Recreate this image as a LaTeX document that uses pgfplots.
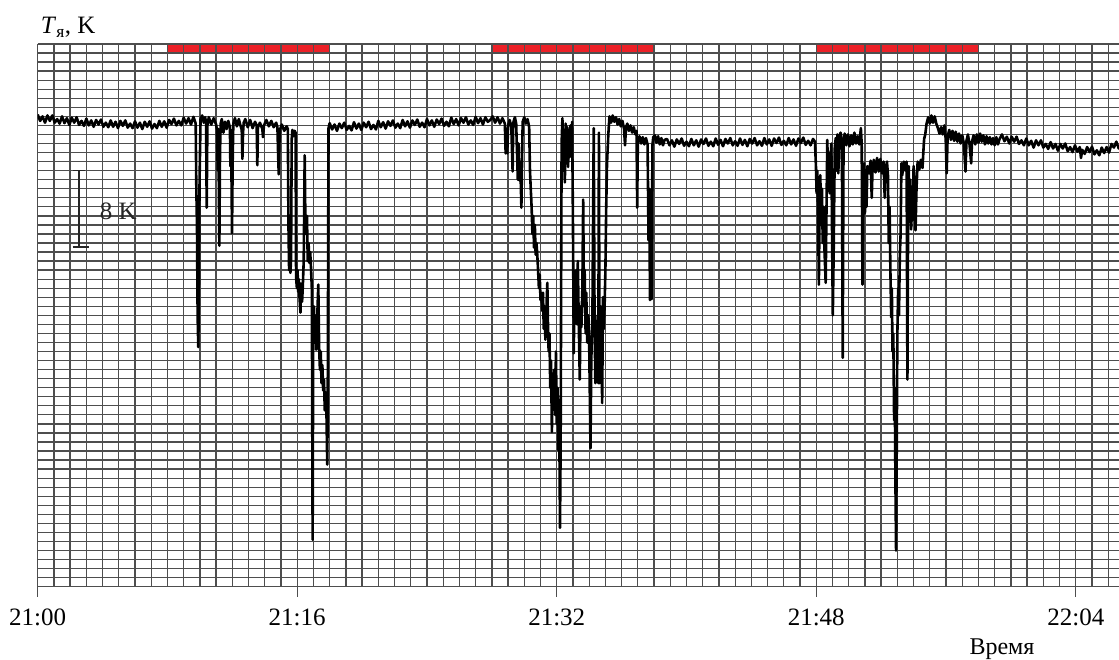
\documentclass[border=0pt]{standalone}
\usepackage{fontspec}
\setmainfont{Liberation Serif}
\usepackage{pgfplots}
\pgfplotsset{compat=1.18}
\usetikzlibrary{calc}
\definecolor{marker}{RGB}{236,32,39}
\definecolor{gridc}{RGB}{78,78,78}
\begin{document}
\begin{tikzpicture}
\begin{axis}[
  name=ax, set layers,
  x=16.22pt, y=9.045pt,
  xmin=0, xmax=66.66, ymin=0, ymax=60,
  axis x line*=bottom, axis y line*=left,
  axis line style={gridc, line width=1.3pt},
  xtick={0,16,32,48,64},
  xticklabels={21:00,21:16,21:32,21:48,22:04},
  minor xtick={1,2,...,66},
  ytick={0,1,...,60}, yticklabels={},
  xmajorgrids, xminorgrids, ymajorgrids,
  major grid style={gridc, line width=1.3pt},
  minor grid style={gridc, line width=1.3pt},
  tick align=outside, major tick length=10pt, minor tick length=0pt,
  ytick style={draw=none},
  xtick style={gridc, line width=1.3pt},
  xticklabel shift=12pt,
  xticklabel style={font=\fontsize{25}{30}\selectfont, anchor=north, inner sep=0pt},
  trace/.style={black, line width=2.6pt, line join=round, mark=none},
]
% observation intervals
\addplot[fill=marker, draw=none, on layer=axis background] coordinates {(8,59) (18,59) (18,60) (8,60) (8,59)};
\addplot[fill=marker, draw=none, on layer=axis background] coordinates {(28,59) (38,59) (38,60) (28,60) (28,59)};
\addplot[fill=marker, draw=none, on layer=axis background] coordinates {(48,59) (58,59) (58,60) (48,60) (48,59)};

\addplot[trace] coordinates {
% 21:00 - 21:10 quiet part
(0,52.2) (0.15,51.5) (0.3,52.0) (0.45,51.3) (0.6,52.1) (0.75,51.5) (0.9,52.1) (1.05,51.3)
(1.2,51.7) (1.35,51.2) (1.5,52.0) (1.65,51.25) (1.8,51.8) (1.95,51.05) (2.1,51.85) (2.25,51.3)
(2.4,51.9) (2.55,51.05) (2.7,51.5) (2.85,50.95) (3.0,51.75) (3.15,51.0) (3.3,51.55) (3.45,50.85)
(3.6,51.6) (3.75,51.1) (3.9,51.65) (4.05,50.85) (4.2,51.3) (4.35,50.8) (4.5,51.55) (4.65,50.85)
(4.8,51.4) (4.95,50.7) (5.1,51.5) (5.25,50.95) (5.4,51.55) (5.55,50.75) (5.7,51.2) (5.85,50.7)
(6.0,51.45) (6.15,50.75) (6.3,51.3) (6.45,50.6) (6.6,51.4) (6.75,50.85) (6.9,51.45) (7.05,50.65)
(7.2,51.15) (7.35,50.7) (7.5,51.5) (7.65,50.85) (7.8,51.45) (7.95,50.75) (8.1,51.6) (8.25,51.15)
(8.4,51.75) (8.55,51.0) (8.7,51.5) (8.85,51.0) (9.0,51.85) (9.15,51.2) (9.3,51.8) (9.45,51.1)
(9.6,51.95)
% first group of dips
(9.74,51.2) (9.78,44) (9.82,40) (9.86,30) (9.90,26.5) (9.94,33) (9.98,45) (10.04,51.7)
(10.14,52.1) (10.24,51.3) (10.32,51.9) (10.38,51.4) (10.42,41.9) (10.46,51.0)
(10.55,51.9) (10.7,51.1) (10.85,51.8) (11.0,51.1)
(11.05,50.5) (11.1,46) (11.13,50.6) (11.17,44) (11.20,37.7) (11.24,48) (11.28,51.2)
(11.35,51.7) (11.45,50.2) (11.55,51.4) (11.65,50.6) (11.75,51.5)
(11.85,50.8) (11.88,46.5) (11.92,50.5) (11.95,45) (11.98,39.1) (12.02,47) (12.06,51.2)
(12.16,51.8) (12.28,50.9) (12.4,51.7) (12.5,51.0)
(12.58,50.5) (12.62,47.3) (12.66,50.2) (12.70,51.3)
(12.8,51.7) (12.95,50.8) (13.1,51.6) (13.25,50.7) (13.4,51.4)
(13.5,51.0) (13.54,46.6) (13.58,50.8)
(13.7,51.3) (13.85,50.6) (13.89,49.7) (13.95,51.0) (14.1,51.6) (14.25,50.9) (14.4,51.5)
(14.55,50.8) (14.7,51.3)
(14.78,50.8) (14.82,48) (14.86,45.6) (14.9,49) (14.95,50.6)
(15.05,51.1) (15.2,50.4) (15.35,50.9)
(15.42,50.6) (15.46,40) (15.5,35) (15.54,36.5) (15.58,34.7) (15.62,36.2) (15.66,49.5)
(15.7,50.5) (15.76,49.8) (15.84,50.4) (15.9,50.2) (15.93,34.2)
(15.98,33) (16.02,35) (16.06,32.6) (16.10,34) (16.14,32) (16.2,30.3) (16.24,33.5)
(16.30,31.5) (16.34,33) (16.4,36) (16.46,47.7) (16.5,41) (16.55,39) (16.6,41) (16.65,36)
(16.7,38) (16.75,35.8) (16.8,37) (16.85,35.3)
(16.90,33) (16.95,5.2) (16.99,30)
(17.03,31) (17.08,27) (17.12,30) (17.17,26.2) (17.22,29) (17.3,33.4) (17.35,26.5)
(17.40,24) (17.45,26) (17.5,22.5) (17.55,24.5) (17.6,21.7) (17.65,22.9) (17.7,19.5)
(17.75,21.5) (17.8,19.6) (17.85,13.5) (17.88,20) (17.93,50.7)
% quiet part 21:18 - 21:28
(18.0,51.25) (18.15,50.55) (18.3,51.1) (18.45,50.4) (18.6,51.2) (18.75,50.7) (18.9,51.3)
(19.05,50.5) (19.2,50.95) (19.35,50.45) (19.5,51.35) (19.65,50.65) (19.8,51.2) (19.95,50.5)
(20.1,51.3) (20.25,50.8) (20.4,51.4) (20.55,50.6) (20.7,51.05) (20.85,50.55) (21.0,51.5)
(21.15,50.8) (21.3,51.35) (21.45,50.65) (21.6,51.45) (21.75,50.95) (21.9,51.55) (22.05,50.75)
(22.2,51.2) (22.35,50.7) (22.5,51.6) (22.65,50.9) (22.8,51.45) (22.95,50.75) (23.1,51.55)
(23.25,51.05) (23.4,51.65) (23.55,50.85) (23.7,51.3) (23.85,50.8) (24.0,51.7) (24.15,51.0)
(24.3,51.55) (24.45,50.85) (24.6,51.65) (24.75,51.15) (24.9,51.75) (25.05,50.95) (25.2,51.4)
(25.35,50.9) (25.5,51.85) (25.65,51.15) (25.8,51.7) (25.95,51.0) (26.1,51.8) (26.25,51.3)
(26.4,51.9) (26.55,51.1) (26.7,51.55) (26.85,51.05) (27.0,51.95) (27.15,51.25) (27.3,51.8)
(27.45,51.1) (27.6,51.9) (27.75,51.4)
% second group of dips
(27.9,51.6) (28.05,52.0) (28.2,51.3) (28.35,51.9) (28.5,51.2) (28.65,51.8) (28.8,51.2)
(28.85,47.9) (28.9,49.5) (28.95,47.9) (29.0,51.0) (29.1,51.6) (29.2,50.8) (29.28,45.9)
(29.32,51.3) (29.42,51.9) (29.5,51.2) (29.55,48) (29.6,45) (29.65,49) (29.7,44.9)
(29.75,47) (29.82,41.9) (29.86,47) (29.9,51.4) (30.0,51.9) (30.1,51.2) (30.2,51.7)
(30.3,50.8) (30.35,46) (30.4,43.9) (30.45,42) (30.5,39) (30.55,41) (30.6,37.5) (30.65,40)
(30.7,36.7) (30.75,38) (30.8,36.7) (30.85,35) (30.9,33) (30.95,34.5) (31.0,31.7)
(31.05,32.5) (31.1,30.5) (31.15,32.5) (31.2,28.5) (31.25,31) (31.3,27.3) (31.35,30)
(31.42,33.6) (31.46,29) (31.5,26) (31.55,28) (31.6,22) (31.65,25) (31.7,17.1) (31.75,23)
(31.8,20.3) (31.85,24) (31.9,19) (31.95,26) (32.0,18) (32.05,22) (32.1,15.1) (32.15,20)
(32.2,6.5) (32.24,15.5) (32.27,32.5) (32.3,49.0) (32.35,51.8) (32.4,46) (32.45,50.5)
(32.5,44.7) (32.55,51.2) (32.6,47) (32.65,50.8) (32.7,46.4) (32.75,50.5) (32.8,47.5)
(32.85,51.0) (32.9,48) (32.95,51.4) (33.0,40) (33.05,25.8) (33.1,34) (33.15,30) (33.2,35)
(33.25,29) (33.3,36) (33.35,30) (33.42,22.9) (33.47,31) (33.52,28.7) (33.58,33)
(33.63,42.8) (33.68,31) (33.72,35) (33.78,28) (33.82,32.5) (33.88,27) (33.95,30)
(34.0,26.9) (34.08,15.3) (34.13,25) (34.2,30) (34.28,50.7) (34.33,30) (34.38,22.5)
(34.42,29) (34.47,24) (34.52,30) (34.56,22.5) (34.6,50.2) (34.64,22.5) (34.7,31)
(34.75,28) (34.8,20.3) (34.85,32) (34.9,28.5) (34.95,31) (35.0,35) (35.05,42) (35.1,46.8)
(35.18,50) (35.25,52.0) (35.35,51.3) (35.45,52.1) (35.55,51.4) (35.65,51.9) (35.75,51.1)
(35.85,51.7) (35.95,50.9) (36.05,51.5) (36.15,50.6) (36.21,48.8) (36.27,50.8) (36.35,51.2)
(36.45,50.4) (36.55,51.0) (36.65,50.2) (36.75,50.8) (36.85,50.0) (36.92,50.4) (36.96,41.9)
(37.0,49.4) (37.1,49.8) (37.2,49.0) (37.3,49.7) (37.4,48.9) (37.5,49.6) (37.6,48.9)
(37.66,38.3) (37.7,44) (37.75,31.7) (37.8,35) (37.85,31.8) (37.9,48.8) (37.95,49.7)
(38.05,49.9) (38.15,49.1) (38.25,49.8) (38.35,48.9) (38.45,49.6) (38.55,48.8) (38.65,49.4)
% quiet part 21:39 - 21:48
(38.8,49.5) (38.95,48.8) (39.1,49.35) (39.25,48.65) (39.4,49.45) (39.55,48.95) (39.7,49.55)
(39.85,48.75) (40.0,49.2) (40.15,48.7) (40.3,49.5) (40.45,48.8) (40.6,49.35) (40.75,48.65)
(40.9,49.45) (41.05,48.95) (41.2,49.55) (41.35,48.75) (41.5,49.2) (41.65,48.7) (41.8,49.55)
(41.95,48.85) (42.1,49.4) (42.25,48.7) (42.4,49.5) (42.55,49.0) (42.7,49.6) (42.85,48.8)
(43.0,49.25) (43.15,48.75) (43.3,49.55) (43.45,48.85) (43.6,49.4) (43.75,48.7) (43.9,49.5)
(44.05,49.0) (44.2,49.6) (44.35,48.8) (44.5,49.25) (44.65,48.75) (44.8,49.6) (44.95,48.9)
(45.1,49.45) (45.25,48.75) (45.4,49.55) (45.55,49.05) (45.7,49.65) (45.85,48.85) (46.0,49.3)
(46.15,48.8) (46.3,49.6) (46.45,48.9) (46.6,49.45) (46.75,48.75) (46.9,49.55) (47.05,49.05)
(47.2,49.65) (47.35,48.85) (47.5,49.3) (47.65,48.8) (47.8,49.5)
% third group of dips
(47.92,49.2) (47.98,46.5) (48.02,43.5) (48.06,46) (48.12,40) (48.16,33.4) (48.2,41)
(48.25,45.5) (48.3,40) (48.35,44) (48.4,38) (48.45,42) (48.5,37.6) (48.58,33.6) (48.62,40)
(48.68,49.4) (48.73,45) (48.78,48) (48.83,43.5) (48.88,47) (48.93,49.0) (48.97,40)
(49.02,30.0) (49.08,38) (49.14,48.5) (49.2,49.6) (49.25,46) (49.3,50.0) (49.36,45.7)
(49.42,49.8) (49.5,50.2) (49.58,49.4) (49.63,25.3) (49.68,48.5) (49.75,50.1) (49.85,48.8)
(49.95,50.0) (50.05,48.7) (50.15,49.9) (50.25,48.9) (50.35,50.2) (50.45,49.0) (50.55,49.8)
(50.65,48.9) (50.75,50.7) (50.8,49) (50.85,33.4) (50.9,42) (50.95,46.8) (51.0,41.3)
(51.05,45) (51.1,42) (51.15,46.5) (51.25,45.7) (51.35,47.1) (51.42,43.0) (51.47,46.2)
(51.55,47.2) (51.65,45.8) (51.75,47.4) (51.85,45.9) (51.95,47.3) (52.05,45.7) (52.15,47.0)
(52.22,43.0) (52.28,46.2) (52.36,47.0) (52.42,45.5) (52.47,38) (52.52,42) (52.57,35)
(52.62,29.8) (52.66,33) (52.7,26) (52.75,28) (52.8,18.4) (52.84,22) (52.88,11.8)
(52.92,4.0) (52.96,15) (53.0,27.9) (53.05,33) (53.1,30) (53.15,36.4) (53.2,39) (53.25,46.8)
(53.3,45.5) (53.4,47.0) (53.5,46.0) (53.57,47.0) (53.62,22.9) (53.66,40) (53.7,46.5)
(53.75,41) (53.8,45) (53.85,39.5) (53.9,44) (53.95,40.5) (54.0,46.5) (54.08,44) (54.12,39.4)
(54.18,44) (54.25,47.0) (54.35,46.1) (54.45,47.2) (54.55,46.3) (54.6,48) (54.65,49.5)
(54.72,50.0) (54.8,51.2) (54.9,51.9) (55.0,51.2) (55.1,52.1) (55.2,51.3) (55.3,52.0)
(55.4,51.2) (55.5,50.7) (55.6,50.1) (55.7,50.8) (55.8,50.0) (55.9,51.0) (55.98,49.5)
(56.04,45.7) (56.1,49.8) (56.2,50.5) (56.3,49.4) (56.4,50.4) (56.5,49.3) (56.6,50.3)
(56.7,49.2) (56.8,50.1) (56.9,49.0) (57.0,49.9) (57.1,49.0) (57.2,45.9) (57.26,49.3)
(57.35,50.0) (57.45,48.9) (57.55,46.8) (57.6,49.2) (57.7,49.9) (57.8,48.9) (57.9,50.0)
(58.0,49.1) (58.1,50.1) (58.2,49.2) (58.3,49.9) (58.4,48.9) (58.5,49.8) (58.6,49.0)
(58.7,49.7) (58.8,48.9) (58.9,49.6) (59.0,48.8) (59.1,49.7) (59.2,48.9) (59.3,49.5)
% tail after 21:59
(59.45,50.0) (59.6,49.25) (59.75,49.75) (59.9,49.0) (60.05,49.75) (60.2,49.2) (60.35,49.75)
(60.5,48.95) (60.65,49.35) (60.8,48.8) (60.95,49.55) (61.1,48.8) (61.25,49.3) (61.4,48.55)
(61.55,49.35) (61.7,48.8) (61.85,49.35) (62.0,48.55) (62.15,48.95) (62.3,48.4) (62.45,49.15)
(62.6,48.45) (62.75,48.95) (62.9,48.2) (63.05,48.95) (63.2,48.45) (63.35,49.0) (63.5,48.15)
(63.65,48.6) (63.8,48.05) (63.95,48.8) (64.1,48.1) (64.25,48.6) (64.32,47.4) (64.4,48.3)
(64.55,47.85) (64.7,48.6) (64.85,48.05) (65.0,48.65) (65.15,47.8) (65.3,48.25) (65.45,47.7)
(65.6,48.55) (65.75,47.95) (65.9,48.6) (66.05,48.0) (66.2,48.95) (66.35,48.55) (66.5,49.2)
(66.65,48.45) (66.8,48.9)
};
\end{axis}
\begin{scope}[shift={(ax.south west)}]
\node[anchor=base west, inner sep=0pt, font=\fontsize{25}{30}\selectfont] at (3pt,552.7pt) {\textit{T}\textsubscript{я}, K};
\draw[black!85, line width=1.6pt] (41.3pt,416pt) -- (41.3pt,339.7pt);
\draw[black!85, line width=1.6pt] (35pt,416pt) -- (47.3pt,416pt);
\draw[black!85, line width=1.6pt] (35pt,339.7pt) -- (51.3pt,339.7pt);
\node[anchor=base, inner sep=0pt, text=black!85, font=\fontsize{25}{30}\selectfont] at (80.6pt,367.4pt) {8 K};
\node[anchor=base, inner sep=0pt, font=\fontsize{24}{28}\selectfont] at (964.3pt,-67.3pt) {Время};
\end{scope}
\pgfresetboundingbox
\path[use as bounding box] ($(ax.south west)+(-37.7pt,-72.3pt)$) rectangle ($(ax.south west)+(1081.3pt,586.7pt)$);
\end{tikzpicture}
\end{document}
